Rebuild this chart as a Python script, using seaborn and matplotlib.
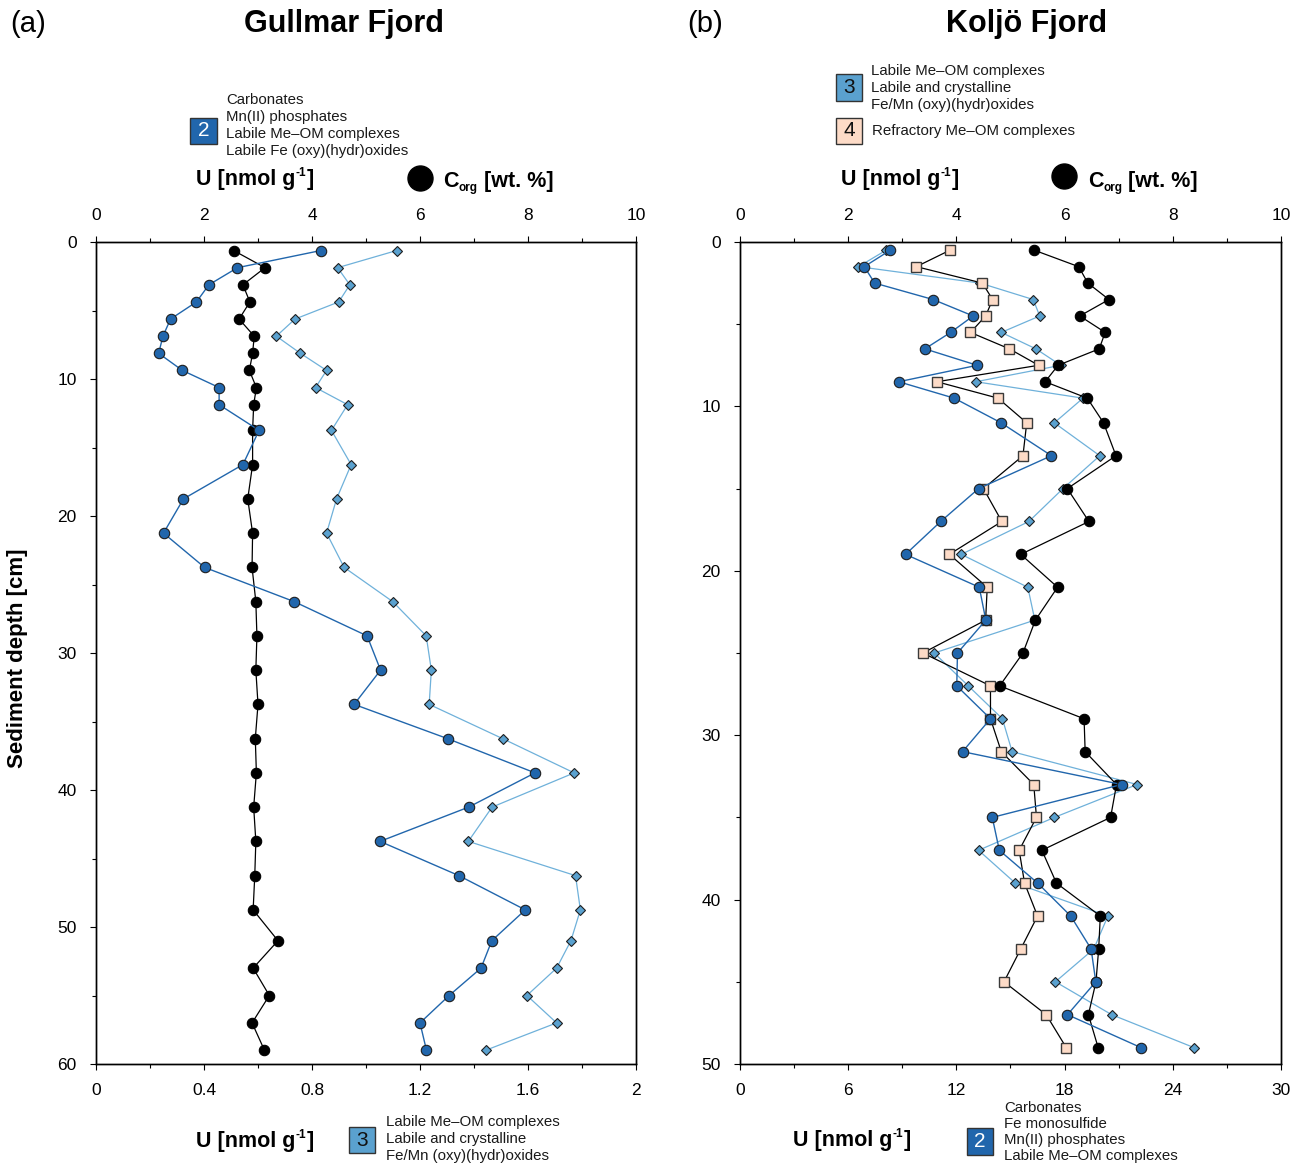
import matplotlib
matplotlib.use("Agg")
import matplotlib.pyplot as plt
import seaborn as sns
from matplotlib.patches import Rectangle
from matplotlib.lines import Line2D
from matplotlib.ticker import MultipleLocator, FixedLocator, FuncFormatter

# ---------------- data ----------------
# Gullmar Fjord
depth_a = [0.625, 1.875, 3.125, 4.375, 5.625, 6.875, 8.125, 9.375, 10.625, 11.875,
           13.75, 16.25, 18.75, 21.25, 23.75, 26.25, 28.75, 31.25, 33.75, 36.25,
           38.75, 41.25, 43.75, 46.25, 48.75, 51, 53, 55, 57, 59]
gf_corg = [2.55, 3.13, 2.72, 2.85, 2.65, 2.93, 2.90, 2.84, 2.97, 2.92,
           2.90, 2.90, 2.81, 2.90, 2.89, 2.96, 2.98, 2.96, 3.00, 2.95,
           2.97, 2.92, 2.96, 2.94, 2.91, 3.37, 2.91, 3.21, 2.89, 3.12]
gf_u2 = [4.16, 2.62, 2.09, 1.86, 1.38, 1.24, 1.16, 1.60, 2.28, 2.28,
         3.02, 2.72, 1.62, 1.25, 2.01, 3.67, 5.02, 5.27, 4.78, 6.51,
         8.13, 6.90, 5.26, 6.72, 7.95, 7.33, 7.13, 6.54, 6.00, 6.12]
gf_u3 = [1.113, 0.895, 0.940, 0.899, 0.737, 0.668, 0.757, 0.854, 0.813, 0.932,
         0.872, 0.945, 0.891, 0.854, 0.919, 1.099, 1.223, 1.242, 1.234, 1.506,
         1.771, 1.467, 1.379, 1.776, 1.794, 1.759, 1.706, 1.596, 1.706, 1.443]

# Koljo Fjord
depth_b = [0.5, 1.5, 2.5, 3.5, 4.5, 5.5, 6.5, 7.5, 8.5, 9.5,
           11, 13, 15, 17, 19, 21, 23, 25, 27, 29,
           31, 33, 35, 37, 39, 41, 43, 45, 47, 49]
kf_corg = [5.44, 6.26, 6.43, 6.82, 6.28, 6.75, 6.64, 5.88, 5.64, 6.42,
           6.72, 6.95, 6.05, 6.45, 5.19, 5.87, 5.46, 5.23, 4.80, 6.36,
           6.38, 6.96, 6.85, 5.58, 5.85, 6.66, 6.63, 6.58, 6.44, 6.62]
kf_u2 = [8.33, 6.89, 7.47, 10.71, 12.93, 11.68, 10.25, 13.15, 8.80, 11.88,
         14.48, 17.27, 13.23, 11.13, 9.18, 13.27, 13.63, 12.06, 12.02, 13.89,
         12.34, 21.16, 13.99, 14.38, 16.51, 18.34, 19.47, 19.73, 18.16, 22.23]
kf_u3 = [2.70, 2.19, 4.44, 5.42, 5.54, 4.83, 5.47, 5.93, 4.36, 6.34,
         5.81, 6.65, 5.97, 5.34, 4.09, 5.32, 5.45, 3.59, 4.22, 4.85,
         5.03, 7.34, 5.81, 4.41, 5.09, 6.80, 6.54, 5.83, 6.87, 8.39]
kf_u4 = [3.88, 3.26, 4.48, 4.67, 4.54, 4.26, 4.98, 5.52, 3.64, 4.77,
         5.30, 5.23, 4.50, 4.84, 3.87, 4.57, 4.54, 3.38, 4.63, 4.63,
         4.83, 5.43, 5.48, 5.16, 5.26, 5.50, 5.19, 4.88, 5.66, 6.03]

# ---------------- style ----------------
sns.set_style("ticks")
plt.rcParams["font.family"] = ["Liberation Sans", "DejaVu Sans"]
for k in ("text.color", "axes.labelcolor", "xtick.color", "ytick.color",
          "axes.edgecolor"):
    plt.rcParams[k] = "black"

DARK = "#2166ac"
MID = "#5aa1cf"
LIGHTLINE = "#6fb1da"
PEACH = "#fddbc7"
EDGE = "#1e1e1e"

W, H = 1296, 1166
fig = plt.figure(figsize=(W / 100, H / 100), dpi=100)
renderer = fig.canvas.get_renderer()


def fx(x):
    return x / W


def fy(y):
    return 1 - y / H


def style_axis(ax):
    ax.tick_params(axis="both", which="major", direction="out", length=4.3,
                   width=0.8, pad=9.5, labelsize=12.5, color="black",
                   labelcolor="black")
    ax.tick_params(axis="both", which="minor", direction="out", length=2.9,
                   width=0.8, color="black")
    for s in ax.spines.values():
        s.set_visible(True)
        s.set_linewidth(1.0)
        s.set_color("black")
    ax.grid(False)


fmt = FuncFormatter(lambda v, p: f"{v:g}")

line_kw = dict(sort=False, estimator=None)

# ---------------- panel (a) ----------------
ax_a = fig.add_axes([fx(96), fy(1064), fx(636) - fx(96), fy(242) - fy(1064)])
sns.lineplot(x=gf_u3, y=depth_a, ax=ax_a, color=LIGHTLINE, linewidth=0.9,
             marker="D", markersize=4.6, markerfacecolor=MID,
             markeredgecolor=EDGE, markeredgewidth=0.8, zorder=2, **line_kw)
ax_a2 = ax_a.twiny()
sns.lineplot(x=gf_corg, y=depth_a, ax=ax_a2, color="black", linewidth=0.9,
             marker="o", markersize=7.5, markerfacecolor="black",
             markeredgecolor="black", markeredgewidth=0.8, zorder=3, **line_kw)
sns.lineplot(x=gf_u2, y=depth_a, ax=ax_a2, color=DARK, linewidth=1.0,
             marker="o", markersize=7.5, markerfacecolor=DARK,
             markeredgecolor=EDGE, markeredgewidth=0.8, zorder=4, **line_kw)

ax_a.set_xlim(0, 2)
ax_a2.set_xlim(0, 10)
ax_a.set_ylim(60, 0)
ax_a.xaxis.set_major_locator(FixedLocator([0, 0.4, 0.8, 1.2, 1.6, 2.0]))
ax_a.xaxis.set_minor_locator(MultipleLocator(0.2))
ax_a.xaxis.set_major_formatter(fmt)
ax_a2.xaxis.set_major_locator(MultipleLocator(2))
ax_a2.xaxis.set_minor_locator(MultipleLocator(1))
ax_a.yaxis.set_major_locator(MultipleLocator(10))
ax_a.yaxis.set_minor_locator(MultipleLocator(5))
for a in (ax_a, ax_a2):
    style_axis(a)
    a.set_xlabel("")
    a.set_ylabel("")
ax_a.tick_params(right=False, which="both")

# ---------------- panel (b) ----------------
ax_b = fig.add_axes([fx(740), fy(1064), fx(1281) - fx(740), fy(242) - fy(1064)])
sns.lineplot(x=kf_u3, y=depth_b, ax=ax_b, color=LIGHTLINE, linewidth=0.9,
             marker="D", markersize=4.6, markerfacecolor=MID,
             markeredgecolor=EDGE, markeredgewidth=0.8, zorder=2, **line_kw)
sns.lineplot(x=kf_u4, y=depth_b, ax=ax_b, color="black", linewidth=0.9,
             marker="s", markersize=7.0, markerfacecolor=PEACH,
             markeredgecolor="#3a3a3a", markeredgewidth=1.0, zorder=3, **line_kw)
sns.lineplot(x=kf_corg, y=depth_b, ax=ax_b, color="black", linewidth=0.9,
             marker="o", markersize=7.5, markerfacecolor="black",
             markeredgecolor="black", markeredgewidth=0.8, zorder=4, **line_kw)
ax_b2 = ax_b.twiny()
sns.lineplot(x=kf_u2, y=depth_b, ax=ax_b2, color=DARK, linewidth=1.0,
             marker="o", markersize=7.5, markerfacecolor=DARK,
             markeredgecolor=EDGE, markeredgewidth=0.8, zorder=5, **line_kw)

ax_b.set_xlim(0, 10)
ax_b2.set_xlim(0, 30)
ax_b.set_ylim(50, 0)
ax_b.xaxis.tick_top()
ax_b.xaxis.set_label_position("top")
ax_b2.xaxis.tick_bottom()
ax_b2.xaxis.set_label_position("bottom")
ax_b.xaxis.set_major_locator(MultipleLocator(2))
ax_b.xaxis.set_minor_locator(MultipleLocator(1))
ax_b2.xaxis.set_major_locator(MultipleLocator(6))
ax_b2.xaxis.set_minor_locator(MultipleLocator(3))
ax_b.yaxis.set_major_locator(MultipleLocator(10))
ax_b.yaxis.set_minor_locator(MultipleLocator(5))
for a in (ax_b, ax_b2):
    style_axis(a)
    a.set_xlabel("")
    a.set_ylabel("")
ax_b.tick_params(right=False, which="both")

# ---------------- annotations ----------------
fig.text(fx(10), fy(24), "(a)", fontsize=21, ha="left", va="center")
fig.text(fx(344), fy(24), "Gullmar Fjord", fontsize=22, fontweight="bold",
         ha="center", va="center")
fig.text(fx(687), fy(24), "(b)", fontsize=21, ha="left", va="center")
fig.text(fx(1027), fy(24), "Koljö Fjord", fontsize=22, fontweight="bold",
         ha="center", va="center")

fig.text(fx(18), fy(658), "Sediment depth [cm]", rotation=90, fontsize=16,
         fontweight="bold", ha="center", va="center")

BIG = 15.5
SMALL = 8.5


def rich(x, ybase, parts, align="left"):
    """parts: list of (text, fontsize, raise_px)"""
    widths = []
    for t, s, dy in parts:
        tt = fig.text(0, 0, t, fontsize=s, fontweight="bold")
        widths.append(tt.get_window_extent(renderer).width)
        tt.remove()
    x0 = x - sum(widths) / 2 if align == "center" else x
    for (t, s, dy), w in zip(parts, widths):
        fig.text(fx(x0), fy(ybase - dy), t, fontsize=s, fontweight="bold",
                 ha="left", va="baseline")
        x0 += w


def ulabel(xc, ybase):
    rich(xc, ybase, [("U [nmol g", BIG, 0), ("-1", SMALL, 9), ("]", BIG, 0)],
         align="center")


def clabel(x, ybase):
    rich(x, ybase, [("C", BIG, 0), ("org", SMALL, -4), (" [wt. %]", BIG, 0)])


def big_dot(x, y):
    fig.add_artist(Line2D([fx(x)], [fy(y)], marker="o", markersize=18,
                          color="black", linestyle="none",
                          transform=fig.transFigure))


def box(x0, y0, x1, y1, color, label, tcolor):
    fig.add_artist(Rectangle((fx(x0), fy(y1)), fx(x1) - fx(x0), fy(y0) - fy(y1),
                             transform=fig.transFigure, facecolor=color,
                             edgecolor="#333333", linewidth=1.0))
    fig.text(fx((x0 + x1) / 2), fy((y0 + y1) / 2), label, ha="center",
             va="center", fontsize=15, color=tcolor)


def lines(x, ys, texts):
    for yy, t in zip(ys, texts):
        fig.text(fx(x), fy(yy), t, ha="left", va="center", fontsize=10.8,
                 color="#1a1a1a")


# panel (a) top
ulabel(255, 185)
big_dot(420, 178)
clabel(443, 187)
box(190, 118, 217, 144, DARK, "2", "white")
lines(226, [100, 117, 134, 151],
      ["Carbonates", "Mn(II) phosphates", "Labile Me–OM complexes",
       "Labile Fe (oxy)(hydr)oxides"])

# panel (a) bottom
ulabel(255, 1147)
box(349, 1127, 375, 1153, MID, "3", "#111111")
lines(386, [1122, 1139, 1156],
      ["Labile Me–OM complexes", "Labile and crystalline",
       "Fe/Mn (oxy)(hydr)oxides"])

# panel (b) top
box(836, 74, 862, 101, MID, "3", "#111111")
lines(871, [71, 88, 105],
      ["Labile Me–OM complexes", "Labile and crystalline",
       "Fe/Mn (oxy)(hydr)oxides"])
box(836, 118, 862, 144, PEACH, "4", "#111111")
lines(872, [131], ["Refractory Me–OM complexes"])
ulabel(900, 185)
big_dot(1064, 176)
clabel(1088, 187)

# panel (b) bottom
ulabel(852, 1146)
box(967, 1128, 993, 1155, DARK, "2", "white")
lines(1004, [1108, 1124, 1140, 1156],
      ["Carbonates", "Fe monosulfide", "Mn(II) phosphates",
       "Labile Me–OM complexes"])

fig.savefig("out.png", dpi=100)
